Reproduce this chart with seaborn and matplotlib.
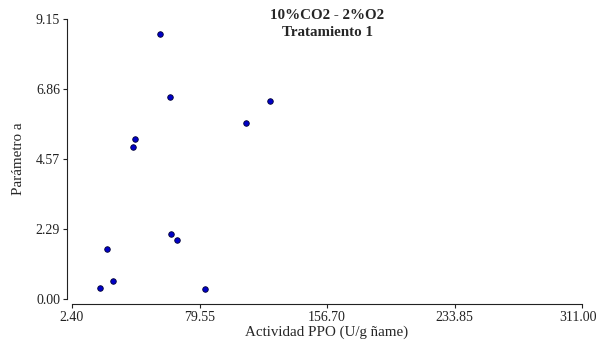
import matplotlib
matplotlib.use("Agg")
import matplotlib.pyplot as plt
import matplotlib.transforms as mtransforms
import seaborn as sns
import pandas as pd

actividad_ppo = [55.6, 61.8, 40.8, 39.6, 107.7, 122.2, 23.8, 19.4, 27.4, 62.2, 65.9, 82.6]
parametro_a = [8.65, 6.61, 5.24, 4.98, 5.74, 6.47, 1.62, 0.36, 0.60, 2.13, 1.94, 0.32]
x_ticks = [2.40, 79.55, 156.70, 233.85, 311.00]
y_ticks = [0.00, 2.29, 4.57, 6.86, 9.15]

df = pd.DataFrame({"x": actividad_ppo, "y": parametro_a})

sns.set_style("ticks")
plt.rcParams["font.family"] = ["Liberation Serif", "DejaVu Serif"]

fig = plt.figure(figsize=(5.97, 3.45), dpi=100)
ax = fig.add_axes([0.1206, 0.1333, 0.8543, 0.8116])
sns.scatterplot(data=df, x="x", y="y", ax=ax, s=16, color="#0000c8",
                edgecolor="#000033", linewidth=0.6, zorder=3)
ax.set_xlim(2.40, 311.00)
ax.set_ylim(0.00, 9.15)
ax.set_xticks(x_ticks)
ax.set_xticklabels([f"{v:.2f}" for v in x_ticks], fontsize=8)
ax.set_yticks(y_ticks)
ax.set_yticklabels([f"{v:.2f}" for v in y_ticks], fontsize=8)
ax.tick_params(direction="out", length=3, width=0.8, pad=2, colors="#222222")
for s in ["left", "bottom"]:
    ax.spines[s].set_linewidth(0.8)
    ax.spines[s].set_color("#222222")
sns.despine(ax=ax, offset=3.6, trim=True)
# nudge last x tick label slightly left so it stays inside the canvas
last = ax.get_xticklabels()[-1]
last.set_transform(last.get_transform() + mtransforms.ScaledTranslation(-3 / 72, 0, fig.dpi_scale_trans))
ax.set_xlabel("Actividad PPO (U/g ñame)", fontsize=10.8, labelpad=1)
ax.set_ylabel("Parámetro a", fontsize=10.8, labelpad=8)
ax.text(0.5, 0.982, "10%CO2 - 2%O2\nTratamiento 1", transform=ax.transAxes,
        ha="center", va="center", fontsize=10.8, fontweight="bold",
        linespacing=1.45)
fig.savefig("out.png", dpi=100)
